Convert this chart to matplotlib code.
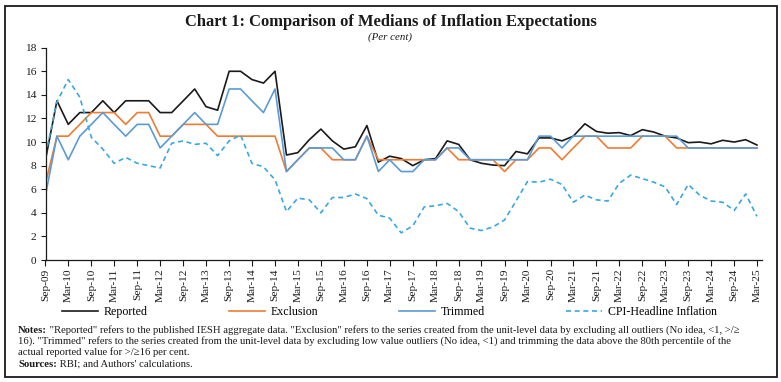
import numpy as np
import pandas as pd
import matplotlib
matplotlib.use("Agg")
import matplotlib.pyplot as plt
import matplotlib.dates as mdates
from matplotlib.patches import Rectangle

plt.rcParams['font.family'] = ['Liberation Serif', 'DejaVu Serif']

# quarterly survey rounds, Sep-09 .. Mar-25
dates = pd.date_range('2009-09-01', periods=63, freq='3MS')

reported = [8.5, 13.5, 11.5, 12.5, 12.5, 13.5, 12.5, 13.5, 13.5, 13.5, 12.5,
            12.5, 13.5, 14.5, 13.0, 12.7, 16.0, 16.0, 15.3, 15.0, 16.0,
            8.9, 9.1, 10.2, 11.1, 10.1, 9.4, 9.6, 11.4, 8.3, 8.8, 8.6,
            8.0, 8.5, 8.6, 10.1, 9.8, 8.5, 8.2, 8.05,
            8.0, 9.2, 9.0, 10.35, 10.35, 10.1, 10.5, 11.55, 10.9, 10.75, 10.8,
            10.55, 11.05, 10.85, 10.5, 10.35, 9.95, 10.0, 9.85, 10.15, 10.0,
            10.2, 9.75]
exclusion = [6.5, 10.5, 10.5, 11.5, 12.5, 12.5, 12.5, 11.5, 12.5, 12.5, 10.5,
             10.5, 11.5, 11.5, 11.5, 10.5, 10.5, 10.5, 10.5, 10.5, 10.5,
             7.5, 8.5, 9.5, 9.5, 8.5, 8.5, 8.5, 10.5, 8.5, 8.5, 8.5,
             8.5, 8.5, 8.5, 9.5, 8.5, 8.5, 8.5, 8.5,
             7.5, 8.5, 8.5, 9.5, 9.5, 8.5, 9.5, 10.5, 10.5, 9.5, 9.5,
             9.5, 10.5, 10.5, 10.5, 9.5, 9.5, 9.5, 9.5, 9.5, 9.5,
             9.5, 9.5]
trimmed = [5.5, 10.5, 8.5, 10.5, 11.5, 12.5, 11.5, 10.5, 11.5, 11.5, 9.5,
           10.5, 11.5, 12.5, 11.5, 11.5, 14.5, 14.5, 13.5, 12.5, 14.5,
           7.5, 8.5, 9.5, 9.5, 9.5, 8.5, 8.5, 10.5, 7.5, 8.5, 7.5,
           7.5, 8.5, 8.5, 9.5, 9.5, 8.5, 8.5, 8.5,
           8.5, 8.5, 8.5, 10.5, 10.5, 9.5, 10.5, 10.5, 10.5, 10.5, 10.5,
           10.5, 10.5, 10.5, 10.5, 10.5, 9.5, 9.5, 9.5, 9.5, 9.5,
           9.5, 9.5]
cpi = [8.9, 13.4, 15.3, 13.8, 10.4, 9.4, 8.2, 8.7, 8.2, 8.0, 7.8,
       9.9, 10.1, 9.8, 9.9, 8.85, 10.1, 10.6, 8.2, 7.9, 6.8,
       4.1, 5.25, 5.1, 4.0, 5.3, 5.3, 5.6, 5.2, 3.8, 3.55, 2.3,
       2.9, 4.5, 4.6, 4.8, 4.1, 2.7, 2.5, 2.8,
       3.4, 5.0, 6.65, 6.6, 6.85, 6.4, 4.9, 5.5, 5.1, 5.0, 6.5,
       7.2, 6.9, 6.6, 6.2, 4.7, 6.4, 5.5, 5.0, 4.9, 4.2,
       5.6, 3.7]

fig = plt.figure(figsize=(7.81, 3.82), dpi=100)
ax = fig.add_axes([45.5 / 781, 122 / 382, 716.5 / 781, 212.3 / 382])

ax.plot(dates, reported, color='#1a1a1a', lw=1.2, label='Reported')
ax.plot(dates, exclusion, color='#f07b32', lw=1.2, label='Exclusion')
ax.plot(dates, trimmed, color='#5b9bd5', lw=1.2, label='Trimmed')
ax.plot(dates, cpi, color='#3aa8e0', lw=1.2, ls=(0, (3, 2.2)),
        label='CPI-Headline Inflation')

ax.set_ylim(0, 18)
ax.set_yticks(np.arange(0, 19, 2))
ax.set_xlim(pd.Timestamp('2009-09-01'), pd.Timestamp('2025-04-10'))
ax.xaxis.set_major_locator(mdates.MonthLocator(bymonth=[3, 9]))
ax.xaxis.set_major_formatter(mdates.DateFormatter('%b-%y'))
for lbl in ax.get_xticklabels():
    lbl.set_rotation(90)
ax.tick_params(axis='x', labelsize=8.2, length=4, width=0.8, pad=2,
               direction='out', colors='#1a1a1a')
ax.tick_params(axis='y', labelsize=8.2, length=3.5, width=0.8, pad=3,
               direction='out', colors='#1a1a1a')
for s in ['top', 'right']:
    ax.spines[s].set_visible(False)
for s in ['left', 'bottom']:
    ax.spines[s].set_linewidth(0.9)
    ax.spines[s].set_color('#1a1a1a')

fig.text(0.5, 1 - 22 / 382, 'Chart 1: Comparison of Medians of Inflation Expectations',
         ha='center', va='center', fontsize=11.9, fontweight='bold', color='#1a1a1a')
fig.text(0.5, 1 - 37 / 382, '(Per cent)', ha='center', va='center',
         fontsize=7.8, style='italic', color='#1a1a1a')

fig.legend(loc='center', ncol=4, mode='expand', frameon=False,
           bbox_to_anchor=(62 / 781, 1 - 319 / 382, 655 / 781, 14 / 382),
           fontsize=8.6, handlelength=3.0, handletextpad=0.5, borderpad=0,
           borderaxespad=0)

# notes block
renderer = fig.canvas.get_renderer()
note_fs = 7.7
x0 = 18 / 781
lines = [
    ('Notes:', ' "Reported" refers to the published IESH aggregate data. "Exclusion" refers to the series '
               'created from the unit-level data by excluding all outliers (No idea, <1, >/\u2265'),
    ('', '16). "Trimmed" refers to the series created from the unit-level data by excluding low value '
         'outliers (No idea, <1) and trimming the data above the 80th percentile of the'),
    ('', 'actual reported value for >/\u226516 per cent.'),
    ('Sources:', ' RBI; and Authors\' calculations.'),
]
ys = [333, 344, 355, 367]
for (bold, rest), yy in zip(lines, ys):
    y = 1 - yy / 382
    xx = x0
    if bold:
        t = fig.text(xx, y, bold, fontsize=note_fs, fontweight='bold', va='baseline',
                     color='#1a1a1a')
        bb = t.get_window_extent(renderer=renderer)
        xx = bb.x1 / fig.bbox.width
    fig.text(xx, y, rest, fontsize=note_fs, va='baseline', color='#1a1a1a')

fig.patches.append(Rectangle((4.5 / 781, 5.5 / 382), 772 / 781, 371 / 382,
                             transform=fig.transFigure, fill=False,
                             edgecolor='#1a1a1a', lw=1.3))

fig.savefig('out.png', dpi=100)
